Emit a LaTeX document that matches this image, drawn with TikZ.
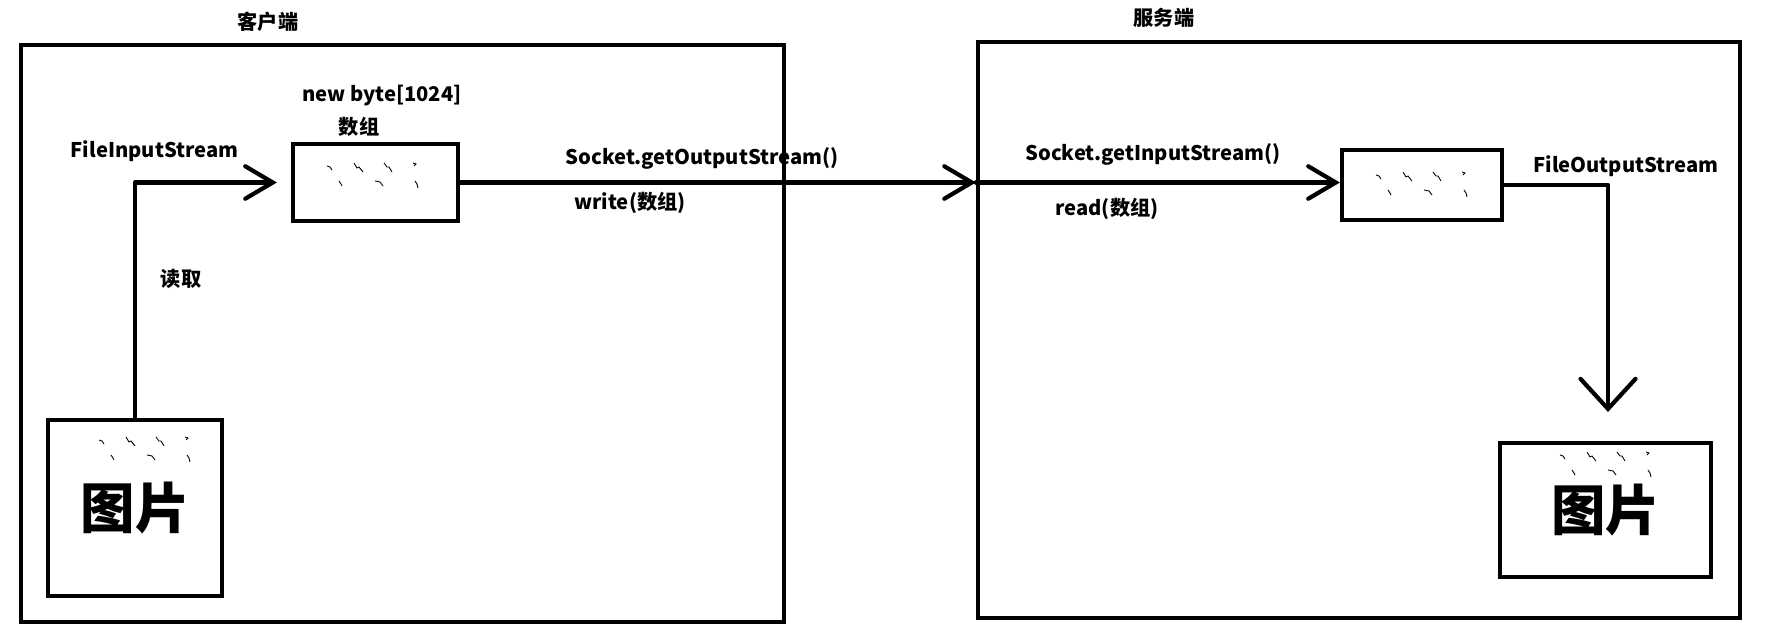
\documentclass[tikz,border=0pt]{standalone}
\usepackage{fontspec}
\setmainfont{Noto Sans CJK SC}
\usetikzlibrary{arrows.meta}

\begin{document}
\begin{tikzpicture}[x=0.02cm,y=-0.02cm,
  box/.style={draw,line width=2.4pt,inner sep=0pt},
  lbl/.style={font=\fontsize{11.5}{13}\selectfont\bfseries,inner sep=0pt},
  big/.style={font=\fontsize{31}{31}\selectfont\bfseries},
  flow/.style={line width=2.4pt,line cap=round,line join=round,
    -{Straight Barb[length=0.55cm,width=0.65cm,line cap=round]}},
  dropflow/.style={flow,-{Straight Barb[length=0.6cm,width=1.1cm,line cap=round]}},
  marks/.pic={
    \draw[line width=0.5pt] (0,3) -- (3,4) -- (5,7);
    \draw[line width=0.5pt] (27,0) -- (30,5) -- (32,4) -- (36,9);
    \draw[line width=0.5pt] (57,0) -- (60,4) -- (62,4) -- (65,9);
    \draw[line width=0.5pt] (86,0) -- (89,1) -- (87,3);
    \draw[line width=0.5pt] (12,18) -- (14,21) -- (15,23);
    \draw[line width=0.5pt] (48,18) -- (53,19) -- (56,23);
    \draw[line width=0.5pt] (88,18) -- (90,21) -- (91,25);
  }]
  \useasboundingbox (0,0) rectangle (1785,644);
  \node[box,minimum width=15.26cm,minimum height=11.54cm] (client) at (402.5,333.5) {};
  \node[box,minimum width=15.24cm,minimum height=11.52cm] (server) at (1359,330) {};
  \node[lbl] (clienttitle) at (268,22) {客户端};
  \node[lbl] (servertitle) at (1164,18) {服务端};
  \node[box,minimum width=3.3cm,minimum height=1.54cm] (arr1) at (375.5,182.5) {};
  \node[box,minimum width=3.2cm,minimum height=1.4cm] (arr2) at (1422,185) {};
  \node[box,big,minimum width=3.48cm,minimum height=3.52cm] (pic1) at (135,508) {图片};
  \node[box,big,minimum width=4.22cm,minimum height=2.68cm] (pic2) at (1605.5,510) {图片};
  \pic at (327,163) {marks};
  \pic at (99,437) {marks};
  \pic at (1376,172) {marks};
  \pic at (1560,452) {marks};
  \node[lbl] (newbyte) at (382,96) {new byte[1024]};
  \node[lbl] (array) at (359,127) {数组};
  \node[lbl] (fis) at (154.5,151) {FileInputStream};
  \node[lbl] (fetch) at (181,279) {读取};
  \node[lbl] (getout) at (702,158) {Socket.getOutputStream()};
  \node[lbl] (write) at (630,203) {write(数组)};
  \node[lbl] (getin) at (1153,154) {Socket.getInputStream()};
  \node[lbl] (read) at (1107,209) {read(数组)};
  \node[lbl] (fos) at (1626,166) {FileOutputStream};
  \coordinate (gate) at (arr1.east -| server.west);
  \coordinate (dropend) at (1608,412);
  \draw[flow,shorten >=0.28cm] (pic1.north) |- (arr1.west);
  \draw[flow] (arr1.east) -- (gate);
  \draw[flow] (gate) -- (gate -| arr2.west);
  \draw[dropflow] (arr2.east) -| (dropend);
\end{tikzpicture}
\end{document}
